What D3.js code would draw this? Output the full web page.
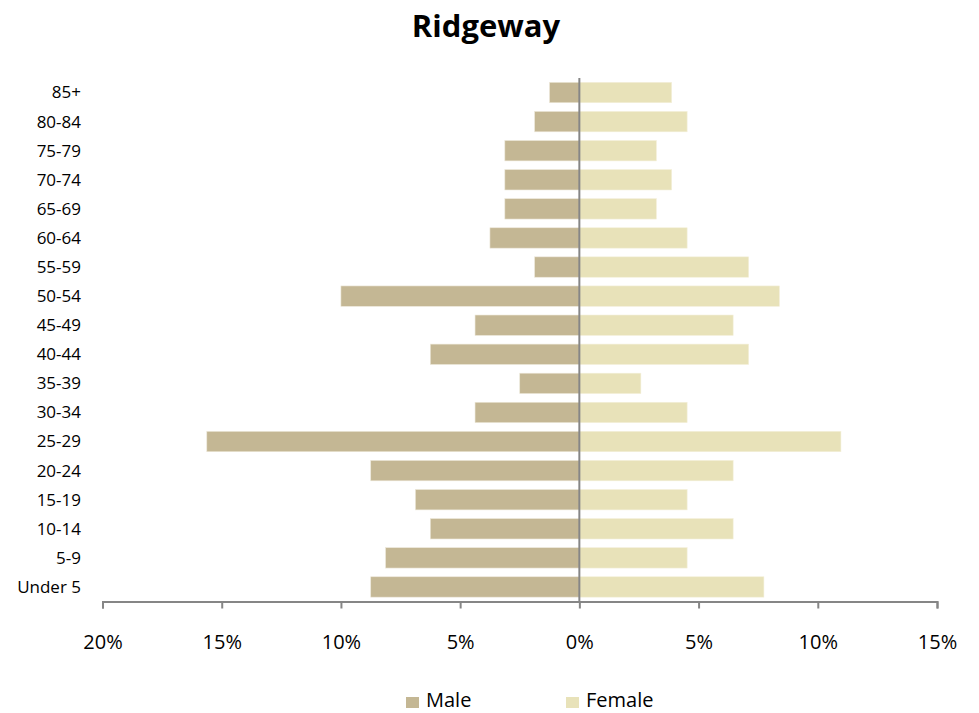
<!DOCTYPE html>
<html><head><meta charset="utf-8">
<script src="https://cdn.jsdelivr.net/npm/d3@7"></script>
<style>body{margin:0;background:#fff;} svg{display:block;font-family:"Open Sans",Lato,sans-serif;}</style>
</head><body>
<script>
const categories = ["85+","80-84","75-79","70-74","65-69","60-64","55-59","50-54","45-49","40-44","35-39","30-34","25-29","20-24","15-19","10-14","5-9","Under 5"];
const male =   [1.25,1.875,3.125,3.125,3.125,3.75,1.875,10.0,4.375,6.25,2.5,4.375,15.625,8.75,6.875,6.25,8.125,8.75];
const female = [3.87,4.52,3.23,3.87,3.23,4.52,7.10,8.39,6.45,7.10,2.58,4.52,10.97,6.45,4.52,6.45,4.52,7.74];
const xTicks = [-20,-15,-10,-5,0,5,10,15];
const title = "Ridgeway";
const seriesNames = ["Male","Female"];
const colors = ["#c4b794","#e8e2b9"];

const W=979,H=713;
const FONT="'Open Sans',Lato,sans-serif";
const svg=d3.select("body").append("svg").attr("width",W).attr("height",H);
const x=d3.scaleLinear().domain([-20,15]).range([102.5,937]);
const y=d3.scaleBand().domain(categories).range([78,601.5]).paddingInner(0.3).paddingOuter(0.15);

svg.append("text").attr("x",486).attr("y",37).attr("text-anchor","middle")
  .attr("font-size",31).attr("font-weight","bold").attr("fill","#000").text(title);

const rows=categories.map((c,i)=>({c,m:male[i],f:female[i]}));
svg.selectAll("rect.m").data(rows).join("rect").attr("class","m")
  .attr("x",d=>x(-d.m)).attr("y",d=>y(d.c)).attr("width",d=>x(0)-x(-d.m)).attr("height",y.bandwidth())
  .attr("fill",colors[0]).attr("stroke","#ece7d8").attr("stroke-width",0.6);
svg.selectAll("rect.f").data(rows).join("rect").attr("class","f")
  .attr("x",x(0)).attr("y",d=>y(d.c)).attr("width",d=>x(d.f)-x(0)).attr("height",y.bandwidth())
  .attr("fill",colors[1]).attr("stroke","#f3efd9").attr("stroke-width",0.6);

svg.append("line").attr("x1",x(0)).attr("x2",x(0)).attr("y1",78).attr("y2",601.5)
  .attr("stroke","#868686").attr("stroke-width",2);

svg.selectAll("text.cat").data(categories).join("text").attr("class","cat")
  .attr("x",81).attr("y",d=>y(d)+y.bandwidth()/2).attr("dy","0.35em").attr("text-anchor","end")
  .attr("font-size",17).attr("fill","#000").text(d=>d);

const xa=d3.axisBottom(x).tickValues(xTicks).tickSize(7).tickPadding(26).tickFormat(d=>Math.abs(d)+"%");
const g=svg.append("g").attr("transform","translate(0,601.5)").call(xa);
g.select(".domain").attr("stroke","#868686").attr("stroke-width",2);
g.selectAll(".tick line").attr("stroke","#868686").attr("stroke-width",2);
g.selectAll(".tick text").attr("font-size",20).attr("fill","#000").attr("font-family",FONT);

const leg=[{n:seriesNames[0],c:colors[0],x:406},{n:seriesNames[1],c:colors[1],x:566}];
const lg=svg.selectAll("g.leg").data(leg).join("g").attr("class","leg");
lg.append("rect").attr("x",d=>d.x).attr("y",697).attr("width",13).attr("height",11).attr("fill",d=>d.c);
lg.append("text").attr("x",d=>d.x+20).attr("y",707).attr("font-size",20).attr("fill","#000").text(d=>d.n);
</script>
</body></html>
